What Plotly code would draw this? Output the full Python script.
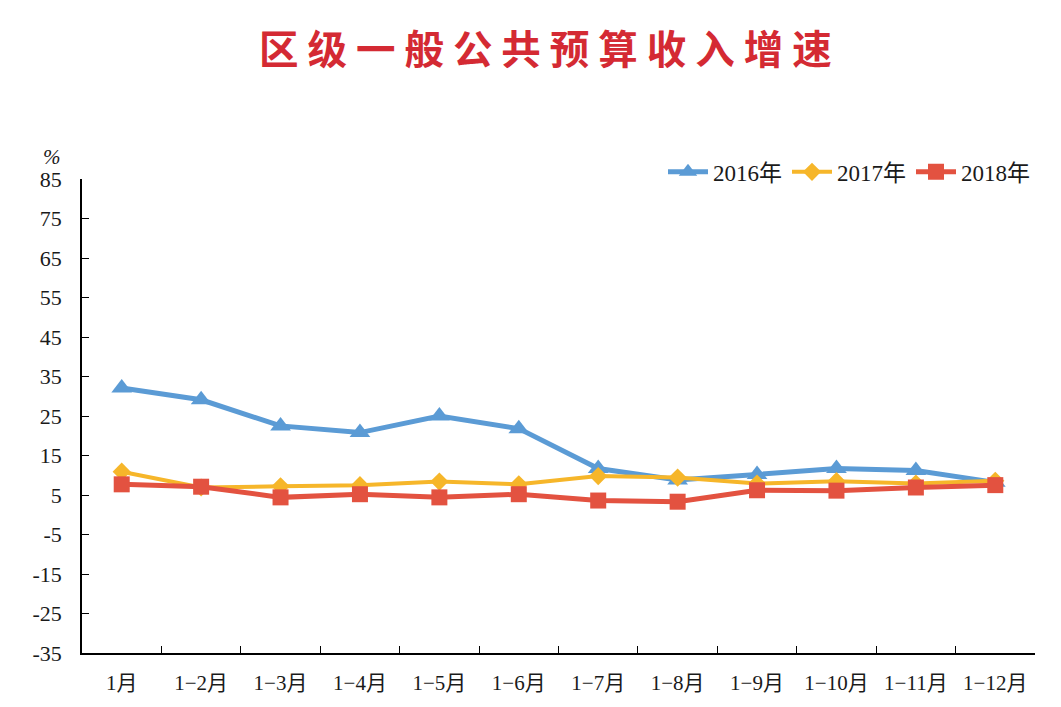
import plotly.graph_objects as go

categories = ["1月", "1−2月", "1−3月", "1−4月", "1−5月", "1−6月",
              "1−7月", "1−8月", "1−9月", "1−10月", "1−11月", "1−12月"]
s2016 = [32.1, 29.1, 22.5, 20.8, 25.0, 21.8, 11.7, 8.8, 10.2, 11.7, 11.2, 8.2]
s2017 = [10.9, 6.9, 7.2, 7.5, 8.4, 7.7, 9.8, 9.4, 7.9, 8.5, 7.9, 8.6]
s2018 = [7.7, 7.1, 4.4, 5.2, 4.4, 5.2, 3.6, 3.3, 6.2, 6.1, 6.9, 7.5]
yticks = [85, 75, 65, 55, 45, 35, 25, 15, 5, -5, -15, -25, -35]

title_text = "区级一般公共预算收入增速"

serif = "Liberation Serif, Noto Sans CJK SC"

fig = go.Figure()
fig.add_trace(go.Scatter(x=categories, y=s2016, name="2016年", mode="lines+markers",
                         line=dict(color="#5B9BD5", width=5),
                         marker=dict(symbol="triangle-up", size=18, color="#5B9BD5")))
fig.add_trace(go.Scatter(x=categories, y=s2017, name="2017年", mode="lines+markers",
                         line=dict(color="#F6B62A", width=4),
                         marker=dict(symbol="diamond", size=14, color="#F6B62A")))
fig.add_trace(go.Scatter(x=categories, y=s2018, name="2018年", mode="lines+markers",
                         line=dict(color="#E35240", width=5),
                         marker=dict(symbol="square", size=16, color="#E35240")))

fig.update_layout(
    width=1061, height=707,
    margin=dict(l=82, r=26, t=179, b=52),
    paper_bgcolor="white", plot_bgcolor="white",
    font=dict(family=serif, size=21, color="#1a1a1a"),
    title=dict(text=" ".join(title_text), x=0.514, xanchor="center", y=0.929, yanchor="middle",
               font=dict(family="Noto Sans CJK SC", size=39.5, color="#D42A33", weight="bold")),
    legend=dict(orientation="h", x=1.0, xanchor="right", y=1.015, yanchor="middle",
                font=dict(family=serif, size=23), itemwidth=40, tracegroupgap=0,
                bgcolor="rgba(0,0,0,0)"),
    showlegend=True,
    xaxis=dict(type="category", range=[-0.5, 11.5], showline=True, linecolor="black", linewidth=1.5,
               ticks="inside", tickson="boundaries", ticklen=7, tickcolor="black",
               showgrid=False, zeroline=False, ticklabelstandoff=10,
               tickfont=dict(family=serif, size=21)),
    yaxis=dict(range=[-35, 85], tickvals=yticks, ticktext=[str(v) for v in yticks],
               showline=True, linecolor="black", linewidth=1.5,
               ticks="inside", ticklen=7, tickcolor="black",
               showgrid=False, zeroline=False, ticklabelstandoff=14,
               tickfont=dict(family=serif, size=22)),
)
fig.add_annotation(text="%", xref="paper", yref="paper", x=-0.031, y=1.046,
                   showarrow=False, font=dict(family=serif, size=21, style="italic"),
                   xanchor="center", yanchor="middle")

fig.write_html("out.html")
